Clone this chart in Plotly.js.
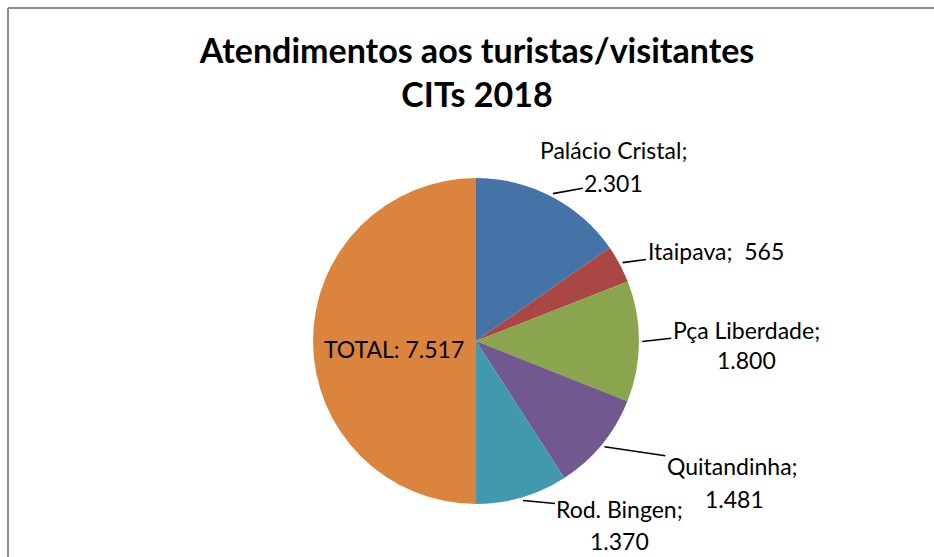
<!DOCTYPE html>
<html>
<head>
<meta charset="utf-8">
<script src="https://cdn.plot.ly/plotly-3.0.1.min.js"></script>
<style>html,body{margin:0;padding:0;background:#fff}#chart{width:934px;height:557px}</style>
</head>
<body>
<div id="chart"></div>
<script>
// ---- data ----
const categories = ["Palácio Cristal", "Itaipava", "Pça Liberdade", "Quitandinha", "Rod. Bingen", "TOTAL"];
const values = [2301, 565, 1800, 1481, 1370, 7517];
const colors = ["#4572A7", "#AA4643", "#89A54E", "#71588F", "#4198AF", "#DB843D"];

// ---- layout config (label placement, pixels relative to slice edge point) ----
const W = 934, H = 557;
const CX = 476, CY = 341, R = 163;
// [nameDx, nameDy, valueDx, valueDy, leaderOn ('name'|'value'|'none'), oneLine, radiusFactor]
const labelCfg = [
  [61, -44, 61, -11, 'value', false, 1.02],
  [93, -12, 0, 0, 'name', true, 1.02],
  [104, -12, 104, 18, 'name', false, 1.02],
  [128, 19, 130, 52, 'name', false, 1.02],
  [97, 9, 97, 41, 'name', false, 1.02],
  [-1, 8, 0, 0, 'none', true, 0.5]
];

function fmt(v) { return String(v).replace(/\B(?=(\d{3})+(?!\d))/g, "."); }
const px2x = p => p / W;
const py2y = p => 1 - p / H;

const FONT = "Lato, 'Open Sans', sans-serif";
const total = values.reduce((a, b) => a + b, 0);
const annotations = [];
let cum = 0;
values.forEach((v, i) => {
  const mid = (cum + v / 2) / total * 2 * Math.PI; // clockwise from 12 o'clock
  cum += v;
  const c = labelCfg[i];
  const r = R * c[6];
  const axp = CX + r * Math.sin(mid);
  const ayp = CY - r * Math.cos(mid);
  const base = {
    x: px2x(axp), y: py2y(ayp), xref: 'paper', yref: 'paper',
    showarrow: true, arrowhead: 0, arrowwidth: 1.6, arrowcolor: '#000',
    font: {family: FONT, size: 23, color: '#000'}
  };
  if (c[5]) {
    const txt = i === values.length - 1 ? categories[i] + ": " + fmt(v) : categories[i] + ";  " + fmt(v);
    annotations.push(Object.assign({}, base, {
      text: txt, ax: c[0], ay: c[1],
      arrowcolor: c[4] === 'none' ? 'rgba(0,0,0,0)' : '#000'
    }));
  } else {
    annotations.push(Object.assign({}, base, {
      text: categories[i] + ";", ax: c[0], ay: c[1],
      arrowcolor: c[4] === 'name' ? '#000' : 'rgba(0,0,0,0)'
    }));
    annotations.push(Object.assign({}, base, {
      text: fmt(v), ax: c[2], ay: c[3],
      arrowcolor: c[4] === 'value' ? '#000' : 'rgba(0,0,0,0)'
    }));
  }
});

const trace = {
  type: 'pie',
  labels: categories,
  values: values,
  sort: false,
  direction: 'clockwise',
  rotation: 0,
  textinfo: 'none',
  hoverinfo: 'label+value',
  marker: {colors: colors, line: {width: 0}},
  domain: {x: [(CX - R) / W, (CX + R) / W], y: [(H - CY - R) / H, (H - CY + R) / H]},
  showlegend: false
};

const layout = {
  width: W, height: H,
  margin: {l: 0, r: 0, t: 0, b: 0},
  paper_bgcolor: '#fff',
  separators: ',.',
  title: {
    text: '<b>Atendimentos aos turistas/visitantes</b><br><b>CITs 2018</b>',
    font: {family: FONT, size: 34, color: '#000'},
    x: 477 / W, xanchor: 'center',
    y: 1 - 63 / H, yanchor: 'top', yref: 'container'
  },
  annotations: annotations,
  shapes: [
    {type: 'line', xref: 'paper', yref: 'paper', x0: px2x(8), x1: 1.01, y0: py2y(8), y1: py2y(8), line: {color: '#8c8c8c', width: 2}},
    {type: 'line', xref: 'paper', yref: 'paper', x0: px2x(8), x1: px2x(8), y0: py2y(8), y1: -0.01, line: {color: '#8c8c8c', width: 2}}
  ]
};

Plotly.newPlot('chart', [trace], layout, {displayModeBar: false, staticPlot: true});
</script>
</body>
</html>
